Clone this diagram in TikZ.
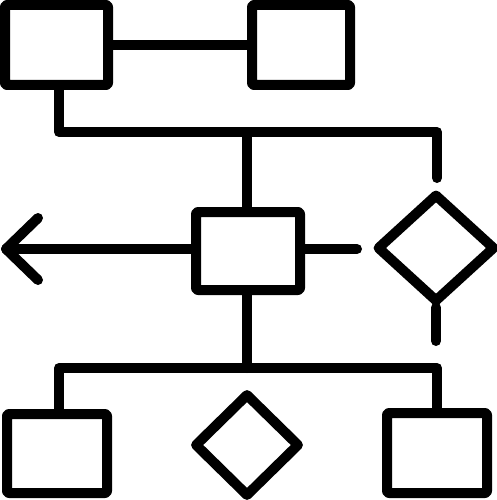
\documentclass[tikz,border=0pt]{standalone}
\usetikzlibrary{shapes.geometric}
\begin{document}
\begin{tikzpicture}[x=1pt,y=-1pt, line width=10pt, line join=round, line cap=round,
  box/.style={draw=black, rectangle, rounded corners=2pt, inner sep=0pt, outer sep=5pt},
  dia/.style={draw=black, diamond, inner sep=0pt, outer sep=5pt, line join=round}]
\useasboundingbox (0,0) rectangle (497,500);
% boxes
\node[box, minimum width=103pt, minimum height=80pt] (tl) at (56.5,45) {};
\node[box, minimum width=98pt, minimum height=80pt] (tr) at (301,45) {};
\node[box, minimum width=104pt, minimum height=78pt] (mid) at (248,251) {};
\node[box, minimum width=100pt, minimum height=79pt] (bl) at (57,453.5) {};
\node[box, minimum width=100pt, minimum height=80pt] (br) at (437,453) {};
% diamonds
\node[dia, minimum width=119pt, minimum height=109pt] (rd) at (436,248) {};
\node[dia, minimum width=106pt, minimum height=104pt] (bd) at (247,445) {};
% junctions and free ends
\coordinate (j1) at (59,132);
\coordinate (j2) at (247,132);
\coordinate (rs) at (437,178);
\coordinate (tip) at (6,249);
\coordinate (ah1) at (38,218);
\coordinate (ah2) at (38,280);
\coordinate (se) at (357,249);
\coordinate (de) at (436,341);
\coordinate (j3) at (247,368);
\coordinate (j4) at (59,368);
\coordinate (j5) at (437,368);
% connectors
\draw (tl.east) -- (tr.west);
\draw (tl.south -| j1) -- (j1) -| (rs);
\draw (j2) -- (mid.north -| j2);
\draw (mid.west |- tip) -- (tip);
\draw (ah1) -- (tip) -- (ah2);
\draw (mid.east |- se) -- (se);
\draw (rd.south) -- (de);
\draw (mid.south -| j3) -- (j3);
\draw (bl.north -| j4) -- (j4) -- (j5) -- (br.north -| j5);
\end{tikzpicture}
\end{document}
